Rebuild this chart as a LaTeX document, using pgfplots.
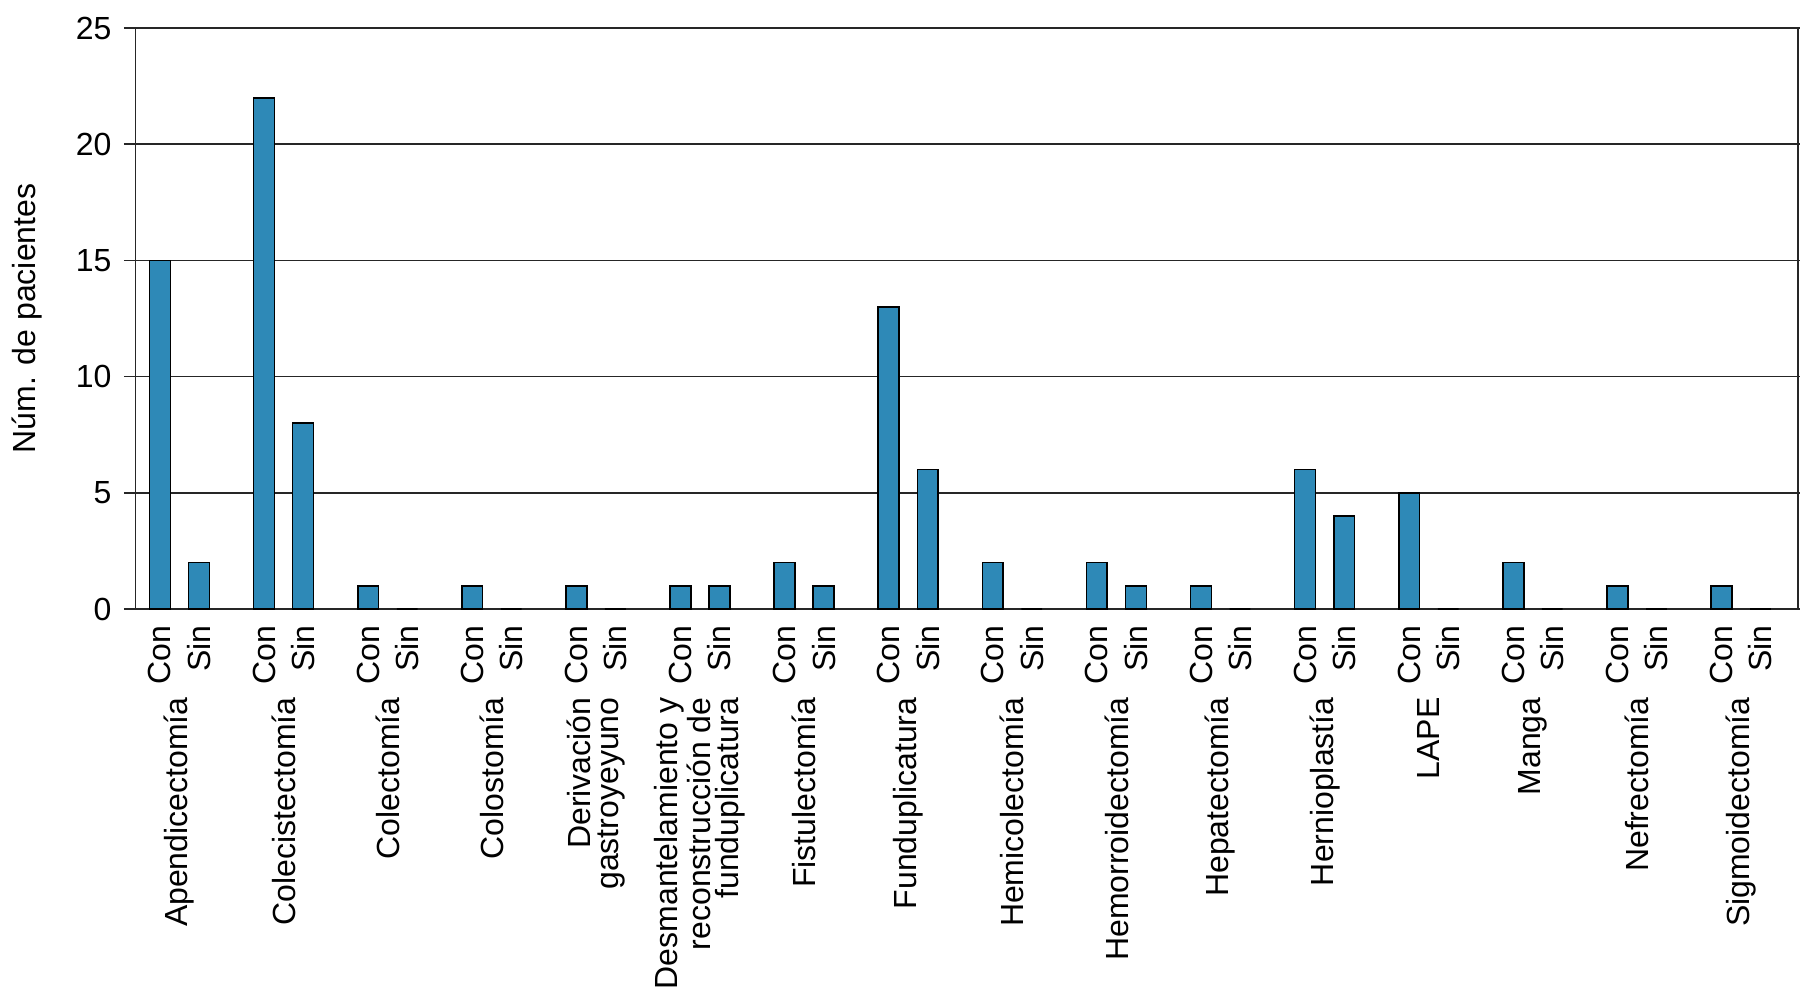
\documentclass[border=0pt]{standalone}
\usepackage{fontspec}
\setmainfont{Liberation Sans}
\usepackage{pgfplots}
\pgfplotsset{compat=1.18}
\definecolor{barblue}{RGB}{46,137,183}
\newcommand\cf{\fontsize{16}{14.2}\selectfont}
\begin{document}
\cf
\begin{tikzpicture}
\begin{axis}[
  at={(0,0)}, anchor=south west,
  scale only axis, width=831.25pt, height=290.5pt,
  xmin=-0.235, xmax=15.735, ymin=0, ymax=25,
  ytick={0,5,10,15,20,25},
  ymajorgrids,
  grid style={black!85, line width=0.8pt},
  axis line style={black!85, line width=0.8pt},
  tick align=outside, major tick length=5.75pt,
  y tick style={black!85, line width=0.8pt},
  x tick style={draw=none},
  /pgf/number format/assume math mode=true,
  every tick label/.append style={font=\cf},
  yticklabel style={inner sep=0pt, outer xsep=6.3pt},
  xtick={0,0.375,1,1.375,2,2.375,3,3.375,4,4.375,5,5.375,6,6.375,7,7.375,8,8.375,9,9.375,10,10.375,11,11.375,12,12.375,13,13.375,14,14.375,15,15.375},
  xticklabels={Con,Sin,Con,Sin,Con,Sin,Con,Sin,Con,Sin,Con,Sin,Con,Sin,Con,Sin,Con,Sin,Con,Sin,Con,Sin,Con,Sin,Con,Sin,Con,Sin,Con,Sin,Con,Sin},
  xticklabel style={rotate=90, anchor=east, inner sep=0pt, outer xsep=2.5pt},
  extra x ticks={0.1875,1.1875,2.1875,3.1875,4.1875,5.1875,6.1875,7.1875,8.1875,9.1875,10.1875,11.1875,12.1875,13.1875,14.1875,15.1875},
  extra x tick labels={Apendicectomía,Colecistectomía,Colectomía,Colostomía,{Derivación\\gastroyeyuno},{Desmantelamiento y\\reconstrucción de\\funduplicatura},Fistulectomía,Funduplicatura,Hemicolectomía,Hemorroidectomía,Hepatectomía,Hernioplastía,LAPE,Manga,Nefrectomía,Sigmoidectomía},
  extra x tick style={
    xticklabel style={align=right, outer xsep=38.5pt, font=\cf},
    x tick style={draw=none},
  },
  ylabel={Núm. de pacientes},
  every axis y label/.style={at={(axis description cs:-0.065,0.5)}, rotate=90, anchor=center, font=\cf},
]
\addplot[ybar, bar shift=0pt, bar width=0.2, fill=barblue, draw=black, line width=0.8pt]
  coordinates {(0,15)(1,22)(2,1)(3,1)(4,1)(5,1)(6,2)(7,13)(8,2)(9,2)(10,1)(11,6)(12,5)(13,2)(14,1)(15,1)};
\addplot[ybar, bar shift=0pt, bar width=0.2, fill=barblue, draw=black, line width=0.8pt]
  coordinates {(0.375,2)(1.375,8)(2.375,0)(3.375,0)(4.375,0)(5.375,1)(6.375,1)(7.375,6)(8.375,0)(9.375,1)(10.375,0)(11.375,4)(12.375,0)(13.375,0)(14.375,0)(15.375,0)};
\end{axis}
\pgfresetboundingbox
\path (-67.75pt,-191.5pt) rectangle (832.25pt,304.5pt);
\end{tikzpicture}
\end{document}
